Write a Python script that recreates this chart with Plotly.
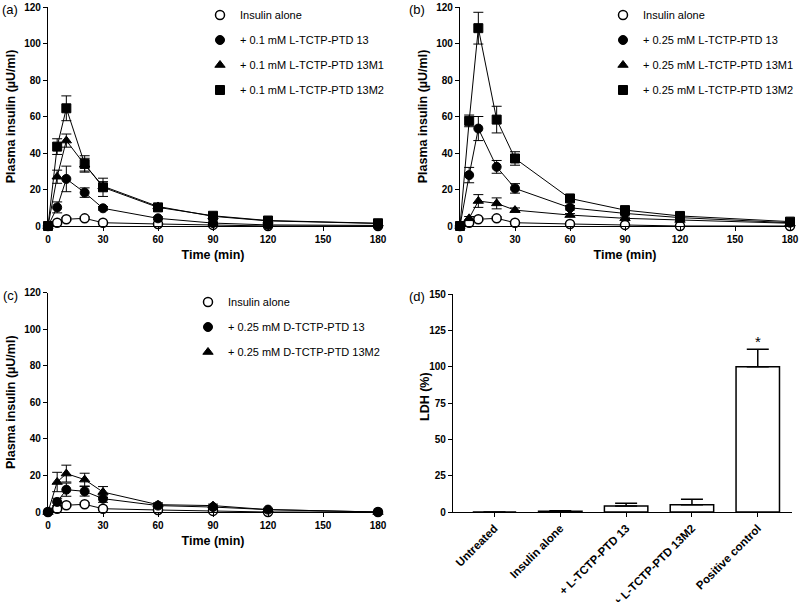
import plotly.graph_objects as go

W, H = 800, 602
FONT = "Liberation Sans, Arial, sans-serif"

# ---------------- data ----------------
time_min = [0, 5, 10, 20, 30, 60, 90, 120, 180]
x_ticks = [0, 30, 60, 90, 120, 150, 180]
y_ticks = [0, 20, 40, 60, 80, 100, 120]

insulin_alone = [0, 1.8, 3.7, 4.2, 1.8, 1.1, 0.6, 0, 0]
insulin_alone_err = [0, 0.4, 0.8, 0.8, 0.4, 0.3, 0.2, 0.1, 0.1]

a_13 = [0, 10.2, 25.8, 18.3, 9.7, 4.2, 1.6, 0.6, 0.3]
a_13_err = [0, 3.0, 7.0, 2.6, 1.0, 0.8, 0.5, 0.3, 0.2]
a_13M1 = [0, 27.0, 46.8, 33.6, 21.8, 10.7, 5.3, 2.8, 1.4]
a_13M1_err = [0, 3.6, 3.6, 3.5, 2.5, 1.5, 1.0, 0.6, 0.4]
a_13M2 = [0, 43.5, 64.5, 34.0, 21.2, 10.2, 5.6, 3.0, 1.5]
a_13M2_err = [0, 4.3, 6.8, 4.5, 5.0, 2.0, 1.2, 0.6, 0.4]

b_13 = [0, 27.9, 53.4, 32.4, 20.6, 10.0, 6.9, 4.6, 1.8]
b_13_err = [0, 4.2, 6.6, 3.5, 2.6, 1.2, 0.8, 0.6, 0.4]
b_13M1 = [0, 4.2, 13.7, 12.4, 8.7, 6.0, 4.2, 3.3, 1.5]
b_13M1_err = [0, 1.0, 3.5, 3.0, 1.2, 0.8, 0.6, 0.5, 0.3]
b_13M2 = [0, 57.6, 108.4, 58.3, 37.0, 15.1, 8.7, 5.5, 2.4]
b_13M2_err = [0, 3.2, 8.7, 7.3, 3.7, 1.4, 1.0, 0.8, 0.5]

c_13 = [0, 5.5, 12.2, 11.3, 7.3, 3.5, 2.7, 1.3, 0]
c_13_err = [0, 2.0, 3.6, 2.6, 2.0, 0.8, 0.6, 0.4, 0.2]
c_13M2 = [0, 16.4, 21.0, 17.7, 10.9, 4.0, 3.5, 1.3, 0]
c_13M2_err = [0, 5.3, 4.6, 3.5, 3.0, 1.0, 0.8, 0.4, 0.2]

ldh_groups = ["Untreated", "Insulin alone", "+ L-TCTP-PTD 13",
              "+ L-TCTP-PTD 13M2", "Positive control"]
ldh_pct = [0, 0.5, 4.2, 5.0, 100]
ldh_err = [0, 0.3, 1.8, 3.8, 12]
ldh_ticks = [0, 25, 50, 75, 100, 125, 150]

# ---------------- helpers ----------------
def px_x(a, b):
    return [a / W, b / W]

def px_y(top, bottom):
    return [1 - bottom / H, 1 - top / H]

fig = go.Figure()

SYMBOLS = {
    "alone": dict(symbol="circle", size=9, color="white", line=dict(color="black", width=1.5)),
    "circle": dict(symbol="circle", size=9, color="black", line=dict(color="black", width=1)),
    "triangle": dict(symbol="triangle-up", size=9, color="black", line=dict(color="black", width=1)),
    "square": dict(symbol="square", size=9, color="black", line=dict(color="black", width=1)),
}

panels = [
    ("x", "y", "legend", [
        ("Insulin alone", insulin_alone, insulin_alone_err, "alone"),
        ("+ 0.1 mM L-TCTP-PTD 13", a_13, a_13_err, "circle"),
        ("+ 0.1 mM L-TCTP-PTD 13M1", a_13M1, a_13M1_err, "triangle"),
        ("+ 0.1 mM L-TCTP-PTD 13M2", a_13M2, a_13M2_err, "square"),
    ]),
    ("x2", "y2", "legend2", [
        ("Insulin alone", insulin_alone, insulin_alone_err, "alone"),
        ("+ 0.25 mM L-TCTP-PTD 13", b_13, b_13_err, "circle"),
        ("+ 0.25 mM L-TCTP-PTD 13M1", b_13M1, b_13M1_err, "triangle"),
        ("+ 0.25 mM L-TCTP-PTD 13M2", b_13M2, b_13M2_err, "square"),
    ]),
    ("x3", "y3", "legend3", [
        ("Insulin alone", insulin_alone, insulin_alone_err, "alone"),
        ("+ 0.25 mM D-TCTP-PTD 13", c_13, c_13_err, "circle"),
        ("+ 0.25 mM D-TCTP-PTD 13M2", c_13M2, c_13M2_err, "triangle"),
    ]),
]

for xa, ya, lg, series in panels:
    for name, vals, err, key in series:
        fig.add_trace(go.Scatter(
            x=time_min, y=vals, mode="lines", xaxis=xa, yaxis=ya,
            line=dict(color="black", width=1), showlegend=False,
            cliponaxis=False, hoverinfo="skip"))
    for i, (name, vals, err, key) in enumerate(series):
        fig.add_trace(go.Scatter(
            x=time_min, y=vals, mode="markers", name=name, xaxis=xa, yaxis=ya,
            marker=SYMBOLS[key], legend=lg, legendgroup=f"{lg}_{i}",
            error_y=dict(type="data", array=err, visible=True, color="black",
                         thickness=1, width=5),
            cliponaxis=False))

fig.add_trace(go.Bar(
    x=ldh_groups, y=ldh_pct, xaxis="x4", yaxis="y4", width=0.66,
    marker=dict(color="white", line=dict(color="black", width=1.5)),
    error_y=dict(type="data", array=ldh_err, arrayminus=[0] * len(ldh_err),
                 symmetric=False, visible=True, color="black", thickness=1.5, width=11),
    showlegend=False, cliponaxis=False))

# ---------------- axes ----------------
tickfont = dict(family=FONT, size=10, color="black", weight="bold")
titlefont = dict(family=FONT, size=12.5, color="black", weight="bold")
common = dict(showline=True, linecolor="black", linewidth=1.3, ticks="outside",
              ticklen=4, tickwidth=1.3, tickcolor="black", showgrid=False,
              zeroline=False, tickfont=tickfont, automargin=False, fixedrange=True)

def time_axes(xdom, ydom, xa, ya):
    xaxis = dict(common, domain=xdom, range=[0, 180], tickvals=x_ticks,
                 anchor=ya, title=dict(text="Time (min)", font=titlefont, standoff=6))
    yaxis = dict(common, domain=ydom, range=[0, 120], tickvals=y_ticks,
                 anchor=xa, title=dict(text="Plasma insulin (\u00b5U/ml)", font=titlefont, standoff=5))
    return xaxis, yaxis

xa1, ya1 = time_axes(px_x(48, 378), px_y(7, 226), "x", "y")
xa2, ya2 = time_axes(px_x(460, 790), px_y(7, 226), "x2", "y2")
xa3, ya3 = time_axes(px_x(48, 378), px_y(292.5, 512), "x3", "y3")
xa4 = dict(common, domain=px_x(453, 792), type="category", range=[-0.63, 4.52],
           tickangle=-45, anchor="y4",
           tickfont=dict(family=FONT, size=11.5, color="black", weight="bold"))
ya4 = dict(common, domain=px_y(294, 512), range=[0, 150], tickvals=ldh_ticks,
           anchor="x4")

legend_common = dict(font=dict(family=FONT, size=11, color="black"),
                     bgcolor="rgba(0,0,0,0)", borderwidth=0, tracegroupgap=6,
                     xanchor="left", yanchor="top", itemclick=False, itemdoubleclick=False)

annotations = []
for txt, x, y in [("(a)", 10, 9), ("(b)", 417, 9), ("(c)", 10, 295), ("(d)", 417, 296)]:
    annotations.append(dict(text=txt, x=x / W, y=1 - y / H, xref="paper", yref="paper",
                            xanchor="center", yanchor="middle", showarrow=False,
                            font=dict(family=FONT, size=13, color="black")))
annotations.append(dict(text="LDH (%)", x=425 / W, y=1 - 397 / H, xref="paper", yref="paper",
                        xanchor="center", yanchor="middle", textangle=-90, showarrow=False,
                        font=titlefont))
annotations.append(dict(text="*", x=ldh_groups[-1], y=ldh_pct[-1] + ldh_err[-1],
                        xref="x4", yref="y4", yanchor="bottom", yshift=-3, showarrow=False,
                        font=dict(family=FONT, size=15, color="black")))

fig.update_layout(
    width=W, height=H, autosize=False,
    margin=dict(l=0, r=0, t=0, b=0, pad=0),
    paper_bgcolor="white", plot_bgcolor="white",
    font=dict(family=FONT, color="black"),
    xaxis=xa1, yaxis=ya1, xaxis2=xa2, yaxis2=ya2,
    xaxis3=xa3, yaxis3=ya3, xaxis4=xa4, yaxis4=ya4,
    legend=dict(legend_common, x=200 / W, y=1 - 0.5 / H),
    legend2=dict(legend_common, x=603 / W, y=1 - 0.5 / H),
    legend3=dict(legend_common, x=188 / W, y=1 - 287.5 / H),
    annotations=annotations,
    bargap=0.3,
)

fig.write_html("out.html", config={"displayModeBar": False},
               post_script="document.body.style.margin='0';")
